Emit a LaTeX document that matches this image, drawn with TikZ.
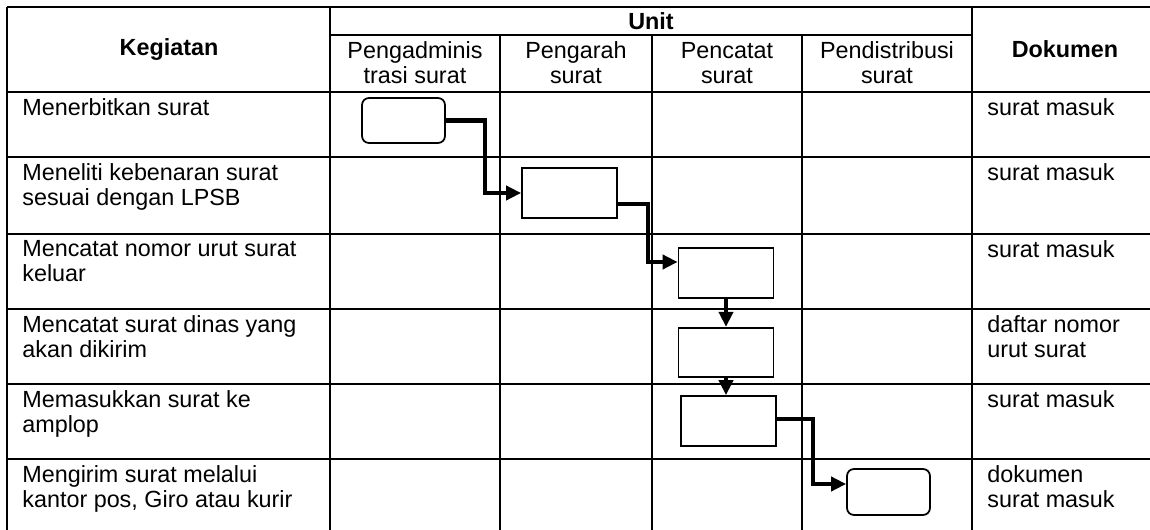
\documentclass[tikz,border=0pt]{standalone}
\usepackage{fontspec}
\setmainfont{Liberation Sans}
\usepackage{tikz}
\usetikzlibrary{arrows.meta, positioning, calc}
\tikzset{
  tblline/.style={line width=1.4pt, color=black},
  hdr/.style={font=\bfseries, inner sep=0pt},
  unithdr/.style={align=center, inner sep=0pt},
  act/.style={anchor=north west, align=left, inner sep=0pt},
  doc/.style={anchor=north west, align=left, inner sep=0pt},
  term/.style={
    rectangle, rounded corners=4pt,
    minimum width=1.66cm, minimum height=0.9cm,
    draw=black, line width=1pt, fill=white},
  proc/.style={
    rectangle,
    minimum width=1.9cm, minimum height=1.0cm,
    draw=black, line width=1pt, fill=white},
  arr/.style={-{Triangle[length=0.3cm,width=0.28cm]}, line width=2.3pt, color=black},
}

\begin{document}
\fontsize{13.3}{14.2}\selectfont
\begin{tikzpicture}[x=0.02cm, y=-0.02cm]
  \useasboundingbox (0,0) rectangle (1150,530);

  % table lines
  \draw[tblline] (7,7) -- (1150,7);
  \draw[tblline] (330,35) -- (972,35);
  \draw[tblline] (7,92) -- (1150,92);
  \draw[tblline] (7,157) -- (1150,157);
  \draw[tblline] (7,234) -- (1150,234);
  \draw[tblline] (7,309) -- (1150,309);
  \draw[tblline] (7,384) -- (1150,384);
  \draw[tblline] (7,459) -- (1150,459);
  \draw[tblline] (7,7) -- (7,530);
  \draw[tblline] (330,7) -- (330,530);
  \draw[tblline] (500,35) -- (500,530);
  \draw[tblline] (652,35) -- (652,530);
  \draw[tblline] (802,35) -- (802,530);
  \draw[tblline] (972,7) -- (972,530);

  % header
  \node[hdr] (hkeg) at (169,50) {Kegiatan};
  \node[hdr] (hunit) at (651,21) {Unit};
  \node[hdr] (hdok) at (1065,49) {Dokumen};
  \node[unithdr] (u1) at (415,63) {Pengadminis\\trasi surat};
  \node[unithdr] (u2) at (576,63) {Pengarah\\surat};
  \node[unithdr] (u3) at (727,63) {Pencatat\\surat};
  \node[unithdr] (u4) at (887,63) {Pendistribusi\\surat};

  % kegiatan
  \node[act] (k1) at (22,98)  {Menerbitkan surat};
  \node[act] (k2) at (22,163) {Meneliti kebenaran surat\\sesuai dengan LPSB};
  \node[act] (k3) at (22,240) {Mencatat nomor urut surat\\keluar};
  \node[act] (k4) at (22,315) {Mencatat surat dinas yang\\akan dikirim};
  \node[act] (k5) at (22,390) {Memasukkan surat ke\\amplop};
  \node[act] (k6) at (22,465) {Mengirim surat melalui\\kantor pos, Giro atau kurir};

  % dokumen
  \node[doc] (d1) at (987,98)  {surat masuk};
  \node[doc] (d2) at (987,163) {surat masuk};
  \node[doc] (d3) at (987,240) {surat masuk};
  \node[doc] (d4) at (987,315) {daftar nomor\\urut surat};
  \node[doc] (d5) at (987,390) {surat masuk};
  \node[doc] (d6) at (987,465) {dokumen\\surat masuk};

  % flow
  \node[term] (b1) at (403.5,120.5) {};
  \node[proc] (b2) at (569.5,193) {};
  \node[proc] (b3) at (726,273) {};
  \node[proc, minimum height=0.98cm, below=0.56cm of b3] (b4) {};
  \node[proc] (b5) at (728.5,421) {};
  \node[term, minimum height=0.92cm] (b6) at (888.5,492) {};

  \draw[arr] (b1.east) -- ++(39,0) |- (b2.west);
  \draw[arr] ($(b2.east)+(0,11)$) -- ++(30,0) |- ($(b3.west)+(0,-11)$);
  \draw[arr] (b3.south) -- (b4.north);
  \draw[arr] (b4.south) -- (b4.south |- b5.north);
  \draw[arr] ($(b5.east)+(0,-2)$) -- ++(36,0) |- ($(b6.west)+(0,-8)$);

\end{tikzpicture}
\end{document}
